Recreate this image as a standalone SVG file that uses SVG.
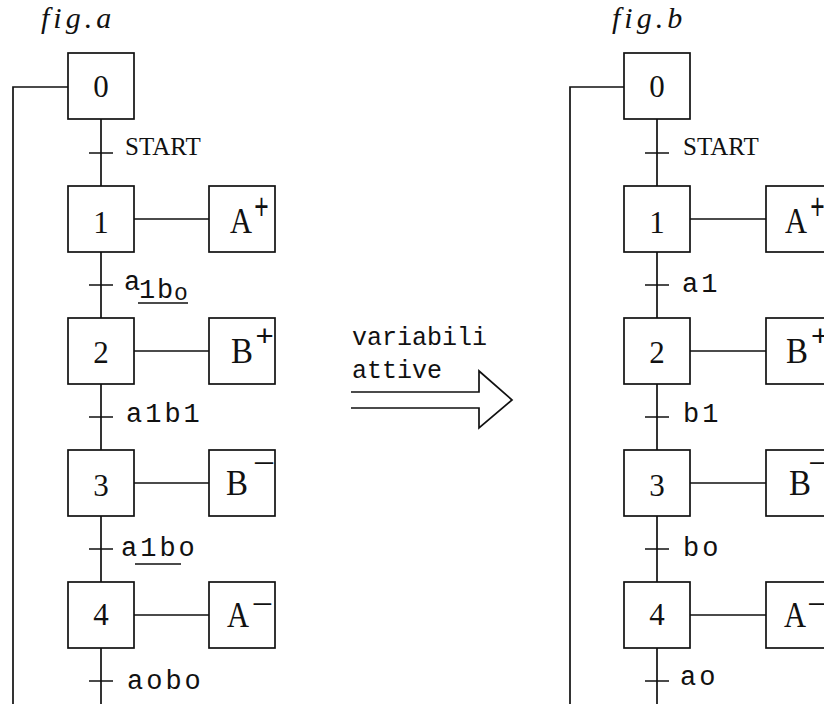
<svg xmlns="http://www.w3.org/2000/svg" width="824" height="704" viewBox="0 0 824 704">
<style>
.box{fill:#fff;stroke:#111;stroke-width:1.7}
.ln{fill:none;stroke:#111;stroke-width:1.7}
.num{font-family:"Liberation Serif",serif;font-size:31px;fill:#111;text-anchor:middle}
.act{font-family:"Liberation Serif",serif;font-size:35px;fill:#111}
.sgn{font-family:"Liberation Sans",sans-serif;font-size:26px;fill:#111;text-anchor:middle}
.mono{font-family:"Liberation Mono",monospace;font-size:27px;fill:#111;letter-spacing:3px}
.mono2{font-family:"Liberation Mono",monospace;font-size:25px;fill:#111}
.start{font-family:"Liberation Serif",serif;font-size:25px;fill:#111}
.fig{font-family:"Liberation Serif",serif;font-style:italic;font-size:30px;fill:#111;letter-spacing:4px}
</style>

<text class="fig" x="41" y="28">fig.a</text>
<text class="fig" x="612" y="28">fig.b</text>

<g id="connectors">
  <!-- fig a -->
  <path class="ln" d="M68,87 H13 V704"/>
  <path class="ln" d="M101,119 V186 M101,252 V318 M101,384 V450 M101,516 V582 M101,648 V704"/>
  <path class="ln" d="M89,153 H113 M89,285 H113 M89,417 H113 M89,549 H113 M89,681 H113"/>
  <path class="ln" d="M134,219 H209 M134,351 H209 M134,483 H209 M134,615 H209"/>
  <path class="ln" d="M138,303 H188 M135,564 H181"/>
  <!-- fig b -->
  <path class="ln" d="M624,87 H570 V704"/>
  <path class="ln" d="M657,119 V186 M657,252 V318 M657,384 V450 M657,516 V582 M657,648 V704"/>
  <path class="ln" d="M645,153 H669 M645,285 H669 M645,417 H669 M645,549 H669 M645,681 H669"/>
  <path class="ln" d="M690,219 H766 M690,351 H766 M690,483 H766 M690,615 H766"/>
  <!-- big arrow -->
  <path class="ln" d="M351,392 H479 V371 L512,400 L479,428 V408 H351"/>
</g>

<g id="transition-labels">
  <text class="start" x="125" y="155">START</text>
  <text class="mono2" x="124" y="290" style="font-size:27px">a</text>
  <text class="mono2" x="139" y="298" style="font-size:27px">1</text>
  <text class="mono2" x="157" y="298" style="font-size:27px">b</text>
  <text class="mono2" x="174" y="300" style="font-size:23px">o</text>
  <text class="mono" x="126" y="422">a1b1</text>
  <text class="mono" x="121" y="556">a1bo</text>
  <text class="mono" x="127" y="689">aobo</text>

  <text class="start" x="683" y="155">START</text>
  <text class="mono" x="682" y="292">a1</text>
  <text class="mono" x="683" y="422">b1</text>
  <text class="mono" x="683" y="556">bo</text>
  <text class="mono" x="680" y="685">ao</text>

  <text class="mono2" x="352" y="345">variabili</text>
  <text class="mono2" x="352" y="378">attive</text>
</g>

<!-- fig a steps -->
<g id="a-step0"><rect class="box" x="68" y="53" width="66" height="66"/><text class="num" x="101" y="97">0</text></g>
<g id="a-step1"><rect class="box" x="68" y="186" width="66" height="66"/><text class="num" x="101" y="233">1</text></g>
<g id="a-step2"><rect class="box" x="68" y="318" width="66" height="66"/><text class="num" x="101" y="363">2</text></g>
<g id="a-step3"><rect class="box" x="68" y="450" width="66" height="66"/><text class="num" x="101" y="496">3</text></g>
<g id="a-step4"><rect class="box" x="68" y="582" width="66" height="66"/><text class="num" x="101" y="625">4</text></g>

<g id="a-act1"><rect class="box" x="209" y="186" width="66" height="66"/>
  <text class="act" x="230" y="233" textLength="22" lengthAdjust="spacingAndGlyphs">A</text>
  <text class="sgn" transform="translate(261.5,205.5) scale(0.95,1.45)" x="0" y="9.2">+</text></g>
<g id="a-act2"><rect class="box" x="209" y="318" width="66" height="66"/>
  <text class="act" x="231" y="363" textLength="22" lengthAdjust="spacingAndGlyphs">B</text>
  <text class="sgn" transform="translate(264.5,335) scale(1.2,1.15)" x="0" y="9.2">+</text></g>
<g id="a-act3"><rect class="box" x="209" y="450" width="66" height="66"/>
  <text class="act" x="226" y="495" textLength="22" lengthAdjust="spacingAndGlyphs">B</text>
  <text class="sgn" transform="translate(264,463) scale(1.45,1)" x="0" y="9.2">−</text></g>
<g id="a-act4"><rect class="box" x="209" y="582" width="66" height="66"/>
  <text class="act" x="227" y="627" textLength="22" lengthAdjust="spacingAndGlyphs">A</text>
  <text class="sgn" transform="translate(262.5,604) scale(1.4,1)" x="0" y="9.2">−</text></g>

<!-- fig b steps -->
<g id="b-step0"><rect class="box" x="624" y="53" width="66" height="66"/><text class="num" x="657" y="97">0</text></g>
<g id="b-step1"><rect class="box" x="624" y="186" width="66" height="66"/><text class="num" x="657" y="233">1</text></g>
<g id="b-step2"><rect class="box" x="624" y="318" width="66" height="66"/><text class="num" x="657" y="363">2</text></g>
<g id="b-step3"><rect class="box" x="624" y="450" width="66" height="66"/><text class="num" x="657" y="496">3</text></g>
<g id="b-step4"><rect class="box" x="624" y="582" width="66" height="66"/><text class="num" x="657" y="625">4</text></g>

<g id="b-act1"><rect class="box" x="766" y="186" width="66" height="66"/>
  <text class="act" x="785" y="233" textLength="22" lengthAdjust="spacingAndGlyphs">A</text>
  <text class="sgn" transform="translate(817.5,205.5) scale(0.95,1.45)" x="0" y="9.2">+</text></g>
<g id="b-act2"><rect class="box" x="766" y="318" width="66" height="66"/>
  <text class="act" x="786" y="363" textLength="22" lengthAdjust="spacingAndGlyphs">B</text>
  <text class="sgn" transform="translate(820,335) scale(1.2,1.15)" x="0" y="9.2">+</text></g>
<g id="b-act3"><rect class="box" x="766" y="450" width="66" height="66"/>
  <text class="act" x="789" y="495" textLength="22" lengthAdjust="spacingAndGlyphs">B</text>
  <text class="sgn" transform="translate(819,463) scale(1.4,1)" x="0" y="9.2">−</text></g>
<g id="b-act4"><rect class="box" x="766" y="582" width="66" height="66"/>
  <text class="act" x="784" y="627" textLength="22" lengthAdjust="spacingAndGlyphs">A</text>
  <text class="sgn" transform="translate(817.5,604) scale(1.35,1)" x="0" y="9.2">−</text></g>
</svg>
